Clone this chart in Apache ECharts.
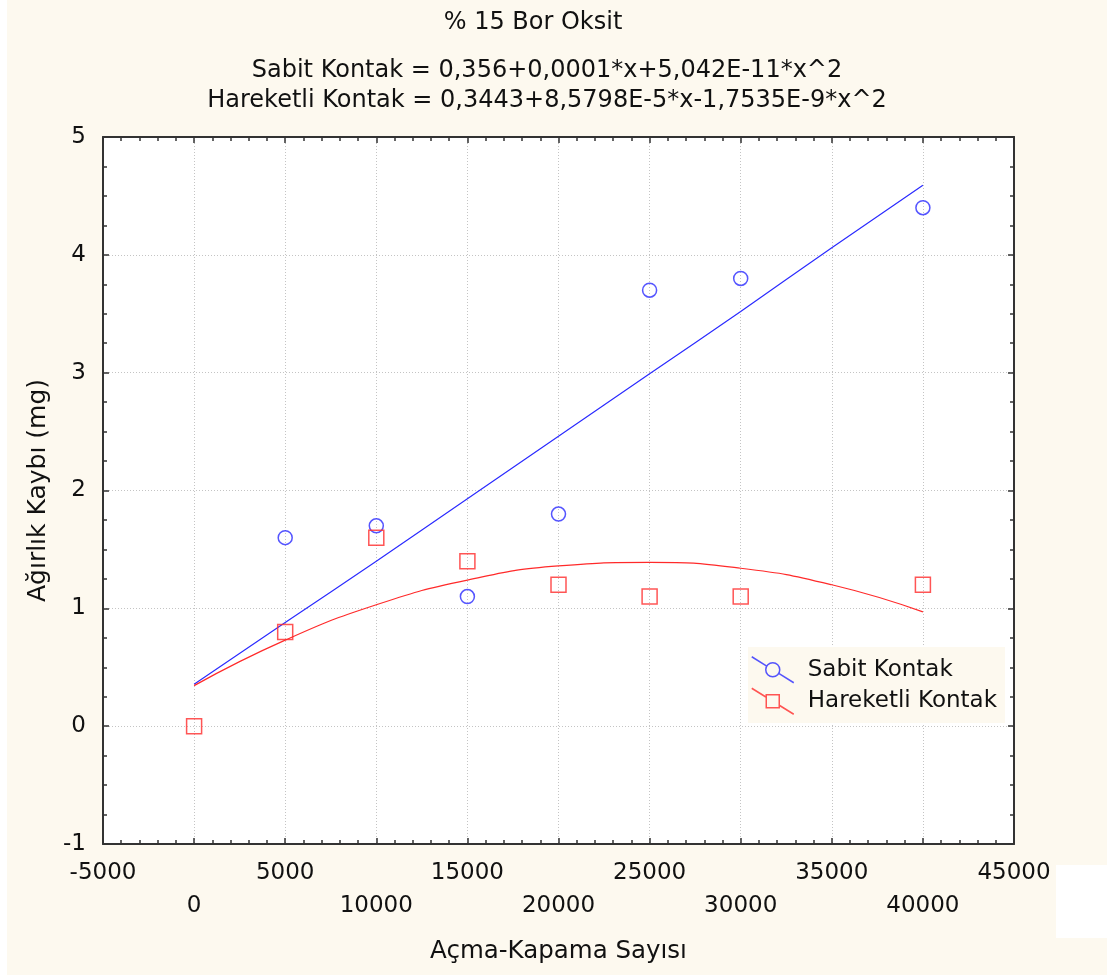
<!DOCTYPE html>
<html>
<head>
<meta charset="utf-8">
<script src="https://cdn.jsdelivr.net/npm/echarts@6/dist/echarts.min.js"></script>
<style>
html,body{margin:0;padding:0;background:#fdf9ef;}
#chart{width:1107px;height:975px;}
</style>
</head>
<body>
<div id="chart"></div>
<script>
// ---- data ----
const sabitX = [5000, 10000, 15000, 20000, 25000, 30000, 40000];
const sabitY = [1.6, 1.7, 1.1, 1.8, 3.7, 3.8, 4.4];
const hareketliX = [0, 5000, 10000, 15000, 20000, 25000, 30000, 40000];
const hareketliY = [0.0, 0.8, 1.6, 1.4, 1.2, 1.1, 1.1, 1.2];
// fitted curves
const fitX = [0, 5000, 10000, 15000, 20000, 25000, 30000, 35000, 40000];
const sabitFit = [0.356, 0.88, 1.40, 1.93, 2.46, 2.99, 3.52, 4.06, 4.59];
const hareketliFit = [0.344, 0.73, 1.03, 1.24, 1.36, 1.39, 1.34, 1.20, 0.97];
// texts
const mainTitle = '% 15 Bor Oksit';
const eqLines = ['Sabit Kontak = 0,356+0,0001*x+5,042E-11*x^2',
                 'Hareketli Kontak = 0,3443+8,5798E-5*x-1,7535E-9*x^2'];
const seriesNames = ['Sabit Kontak', 'Hareketli Kontak'];
const xName = 'Açma-Kapama Sayısı';
const yName = 'Ağırlık Kaybı (mg)';
const xMin = -5000, xMax = 45000, xStep = 5000;
const yMin = -1, yMax = 5, yStep = 1;

const FONT = 'DejaVu Sans';
const BLUE = '#2b2bff';
const RED = '#ff2a2a';
const TXT = '#111';
const pair = (xs, ys) => xs.map((x, i) => [x, ys[i]]);

const axisLineStyle = {show: true, onZero: false, lineStyle: {color: '#333', width: 2}};
const tickStyle = {show: true, inside: true, length: 6, lineStyle: {color: '#333', width: 1.5}};
const minorTickX = {show: true, splitNumber: 5, length: 4, lineStyle: {color: '#333', width: 1.5}};
const minorTickY = {show: true, splitNumber: 4, length: 4, lineStyle: {color: '#333', width: 1.5}};
const gridLine = {show: true, lineStyle: {color: '#c4c4c4', width: 1, type: [1, 2]}};

const chart = echarts.init(document.getElementById('chart'), null, {renderer: 'canvas'});
chart.setOption({
  backgroundColor: '#fdf9ef',
  animation: false,
  title: [
    {text: mainTitle, left: 533, top: 8, textAlign: 'center', padding: 0,
     textStyle: {fontFamily: FONT, fontSize: 24, fontWeight: 'normal', color: TXT, lineHeight: 30}},
    {text: eqLines.join('\n'), left: 547, top: 56, textAlign: 'center', padding: 0,
     textStyle: {fontFamily: FONT, fontSize: 24, fontWeight: 'normal', color: TXT, lineHeight: 30}}
  ],
  graphic: [
    {type: 'rect', left: 0, top: 0, z: -10, shape: {width: 7, height: 975}, style: {fill: '#ffffff'}},
    {type: 'rect', left: 1056, top: 865, z: -10, shape: {width: 51, height: 73}, style: {fill: '#ffffff'}}
  ],
  grid: {left: 103, right: 93, top: 137, bottom: 131, show: true, backgroundColor: '#ffffff', borderWidth: 0},
  legend: {
    orient: 'vertical', left: 748, top: 647,
    backgroundColor: '#fdf9ef',
    padding: [9, 8, 8, 3],
    itemWidth: 42, itemHeight: 26, itemGap: 4,
    textStyle: {fontFamily: FONT, fontSize: 23, color: TXT, padding: [0, 0, 0, 9]},
    data: [
      {name: seriesNames[0],
       icon: 'path://M0,0 L15,9.3 M27,16.7 L42,26 M28,13 A7,7 0 1,0 14,13 A7,7 0 1,0 28,13 Z',
       itemStyle: {color: 'transparent', borderColor: BLUE, borderWidth: 1.5}},
      {name: seriesNames[1],
       icon: 'path://M0,0 L14.5,9 M27.5,17 L42,26 M14.5,6.5 L27.5,6.5 L27.5,19.5 L14.5,19.5 Z',
       itemStyle: {color: 'transparent', borderColor: RED, borderWidth: 1.5}}
    ]
  },
  xAxis: [
    {type: 'value', min: xMin, max: xMax, interval: xStep, position: 'bottom',
     name: xName, nameLocation: 'middle', nameGap: 95,
     nameTextStyle: {fontFamily: FONT, fontSize: 24.5, color: TXT},
     axisLine: axisLineStyle, axisTick: tickStyle, minorTick: minorTickX,
     splitLine: gridLine,
     axisLabel: {fontFamily: FONT, fontSize: 23, color: TXT, margin: 13, lineHeight: 33,
       showMinLabel: true, showMaxLabel: true,
       formatter: function (v) {
         const k = Math.round(v / xStep);
         return (Math.abs(k) % 2 === 1) ? String(v) : '\n' + String(v);
       }}},
    {type: 'value', min: xMin, max: xMax, interval: xStep, position: 'top',
     axisLine: axisLineStyle, axisTick: tickStyle, minorTick: minorTickX,
     splitLine: {show: false}, axisLabel: {show: false}}
  ],
  yAxis: [
    {type: 'value', min: yMin, max: yMax, interval: yStep, position: 'left',
     name: yName, nameLocation: 'middle', nameGap: 52, nameRotate: 90,
     nameTextStyle: {fontFamily: FONT, fontSize: 25, color: TXT},
     axisLine: axisLineStyle, axisTick: tickStyle, minorTick: minorTickY,
     splitLine: gridLine,
     axisLabel: {fontFamily: FONT, fontSize: 23, color: TXT, margin: 17}},
    {type: 'value', min: yMin, max: yMax, interval: yStep, position: 'right',
     axisLine: axisLineStyle, axisTick: tickStyle, minorTick: minorTickY,
     splitLine: {show: false}, axisLabel: {show: false}}
  ],
  series: [
    {name: seriesNames[0] + ' fit', type: 'line', data: pair(fitX, sabitFit), smooth: true,
     showSymbol: false, lineStyle: {color: BLUE, width: 1.2}, z: 2, silent: true},
    {name: seriesNames[1] + ' fit', type: 'line', data: pair(fitX, hareketliFit), smooth: true,
     showSymbol: false, lineStyle: {color: RED, width: 1.2}, z: 2, silent: true},
    {name: seriesNames[0], type: 'scatter', data: pair(sabitX, sabitY), symbol: 'circle', symbolSize: 14,
     itemStyle: {color: 'transparent', borderColor: BLUE, borderWidth: 1.5}, z: 3},
    {name: seriesNames[1], type: 'scatter', data: pair(hareketliX, hareketliY), symbol: 'rect', symbolSize: 15,
     itemStyle: {color: 'transparent', borderColor: RED, borderWidth: 1.5}, z: 3}
  ]
});
</script>
</body>
</html>
